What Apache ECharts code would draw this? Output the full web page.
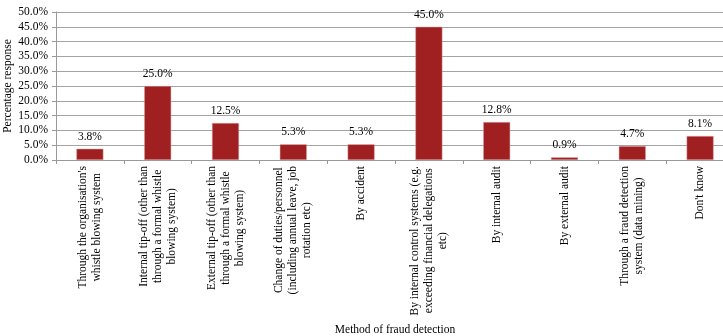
<!DOCTYPE html>
<html><head><meta charset="utf-8">
<script src="https://cdn.jsdelivr.net/npm/echarts@6/dist/echarts.min.js"></script>
<style>html,body{margin:0;padding:0;background:#fff}#c{width:723px;height:336px}</style>
</head><body><div id="c"></div>
<script>
var categories = [
  "Through the organisation's\nwhistle blowing system",
  "Internal tip-off (other than\nthrough a formal whistle\nblowing system)",
  "External tip-off (other than\nthrough a formal whistle\nblowing system)",
  "Change of duties/personnel\n(including annual leave, job\nrotation etc)",
  "By accident",
  "By internal control systems (e.g.\nexceeding financial delegations\netc)",
  "By internal audit",
  "By external audit",
  "Through a fraud detection\nsystem (data mining)",
  "Don't know"
];
var values = [3.8, 25.0, 12.5, 5.3, 5.3, 45.0, 12.8, 0.9, 4.7, 8.1];
var yTitle = "Percentage response";
var xTitle = "Method of fraud detection";
var serif = "'Liberation Serif', 'DejaVu Serif', serif";

var chart = echarts.init(document.getElementById('c'));
chart.setOption({
  animation: false,
  grid: {left: 56, width: 678, top: 12, height: 148, containLabel: false, outerBoundsMode: 'none'},
  xAxis: {
    type: 'category', data: categories,
    name: xTitle, nameLocation: 'middle', nameGap: 164, nameMoveOverlap: false,
    nameTextStyle: {fontFamily: serif, fontSize: 11.5, color: '#000'},
    axisLine: {lineStyle: {color: '#999'}},
    axisTick: {show: true, length: 4, lineStyle: {color: '#999'}},
    axisLabel: {
      rotate: 90, interval: 0, align: 'right', margin: 6,
      formatter: function(v){ return v.split('\n').map(function(s){return '{c|' + s + '}';}).join('\n'); },
      rich: {c: {align: 'center', fontFamily: serif, fontSize: 11.5, color: '#000', lineHeight: 14}}
    }
  },
  yAxis: {
    type: 'value', min: 0, max: 50, interval: 5,
    name: yTitle, nameLocation: 'middle', nameGap: 42, nameMoveOverlap: false,
    nameTextStyle: {fontFamily: serif, fontSize: 11.5, color: '#000'},
    axisLine: {show: true, lineStyle: {color: '#999'}},
    axisTick: {show: true, length: 4, lineStyle: {color: '#999'}},
    axisLabel: {formatter: function(v){return v.toFixed(1)+'%';}, fontFamily: serif, fontSize: 11.5, color: '#000', margin: 8},
    splitLine: {lineStyle: {color: '#a3a3a3', width: 1}}
  },
  series: [{
    type: 'bar', data: values, barWidth: 27,
    itemStyle: {color: '#a01f21', borderColor: '#d8a8a8', borderWidth: 0.5},
    label: {show: true, position: 'top', distance: 6, formatter: function(p){return p.value.toFixed(1)+'%';}, fontFamily: serif, fontSize: 11.5, color: '#000'}
  }]
});
</script></body></html>
